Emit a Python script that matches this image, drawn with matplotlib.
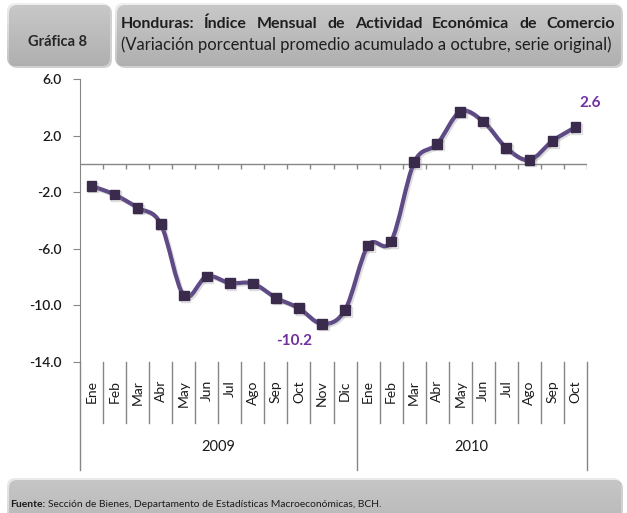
import numpy as np
import matplotlib
matplotlib.use('Agg')
import matplotlib.pyplot as plt
from matplotlib.path import Path
from matplotlib.patches import PathPatch, FancyBboxPatch
from matplotlib.colors import LinearSegmentedColormap
import matplotlib.patheffects as pe

plt.rcParams['font.family'] = ['Lato', 'DejaVu Sans']

# datos
meses = ['Ene', 'Feb', 'Mar', 'Abr', 'May', 'Jun', 'Jul', 'Ago', 'Sep', 'Oct', 'Nov', 'Dic',
         'Ene', 'Feb', 'Mar', 'Abr', 'May', 'Jun', 'Jul', 'Ago', 'Sep', 'Oct']
anios = ['2009', '2010']
meses_por_anio = [12, 10]
valores = [-1.55, -2.17, -3.10, -4.23, -9.30, -7.95, -8.42, -8.45, -9.46, -10.2, -11.30, -10.33,
           -5.77, -5.48, 0.11, 1.41, 3.69, 2.99, 1.13, 0.28, 1.62, 2.6]
etiquetas = {9: '-10.2', 21: '2.6'}
yticks = [6.0, 2.0, -2.0, -6.0, -10.0, -14.0]

titulo1 = 'Honduras: Índice Mensual de Actividad Económica de Comercio'
titulo2 = '(Variación porcentual promedio acumulado a octubre, serie original)'
fuente = 'Sección de Bienes, Departamento de Estadísticas Macroeconómicas, BCH.'

gris = '#868686'
linea = '#5E4A85'
marca = '#3A2B4D'
morado = '#7030A0'
texto = '#1F1F1F'

fig = plt.figure(figsize=(6.27, 5.13), dpi=100)

# fondo con cajas grises (coordenadas en pixeles)
bg = fig.add_axes([0, 0, 1, 1], zorder=-1)
bg.axis('off')


def caja(x0, y0, x1, y1, c1, c2, r=8):
    sombra = FancyBboxPatch((x0 + 2, y0 + 2), x1 - x0, y1 - y0,
                            boxstyle=f'round,pad=0,rounding_size={r}',
                            fc='#9a9a9a', ec='none', alpha=0.45)
    bg.add_patch(sombra)
    p = FancyBboxPatch((x0, y0), x1 - x0, y1 - y0,
                       boxstyle=f'round,pad=0,rounding_size={r}',
                       fc='none', ec='none')
    bg.add_patch(p)
    cm = LinearSegmentedColormap.from_list('g', [c1, c2])
    grad = np.linspace(0, 1, 100).reshape(-1, 1)
    im = bg.imshow(grad, extent=(x0, x1, y1, y0), cmap=cm, aspect='auto')
    im.set_clip_path(p)


caja(7, 3, 110, 66, '#EFEFEF', '#C2C2C2')
caja(115, 3, 621, 66, '#EFEFEF', '#C2C2C2')
caja(7, 478, 621, 530, '#EBEBEB', '#CFCFCF')
bg.set_xlim(0, 627)
bg.set_ylim(513, 0)

bg.text(58, 42, 'Gráfica 8', ha='center', va='center', fontsize=10.5,
        fontweight='bold', color='#262626')

# titulo justificado entre x=121 y x=615
rend = fig.canvas.get_renderer()
palabras = titulo1.split(' ')
objs = [bg.text(0, 24, w, ha='left', va='center', fontsize=11.5,
                fontweight='bold', color=texto) for w in palabras]
anchos = [o.get_window_extent(rend).width for o in objs]
hueco = (615 - 121 - sum(anchos)) / (len(palabras) - 1)
x = 121
for o, w in zip(objs, anchos):
    o.set_x(x)
    x += w + hueco
bg.text(121, 45, titulo2, ha='left', va='center', fontsize=11.9, color=texto)

t1 = bg.text(10, 509, 'Fuente:', ha='left', va='bottom', fontsize=7.4,
             fontweight='bold', color='#1a1a1a')
bg.annotate(fuente, xy=(1, 0), xycoords=t1, xytext=(2, 0), textcoords='offset points',
            ha='left', va='bottom', fontsize=7.4, color='#1a1a1a')

# grafico
ax = fig.add_axes([80 / 627, 1 - 362 / 513, 507 / 627, 283 / 513])
ax.set_xlim(0, len(meses))
ax.set_ylim(-14, 6)
ax.set_yticks(yticks)
ax.set_yticklabels([f'{v:.1f}' for v in yticks])
ax.set_xticks([])
for s in ['top', 'right', 'bottom']:
    ax.spines[s].set_visible(False)
ax.spines['left'].set_color(gris)
ax.tick_params(axis='y', direction='out', length=5, color=gris, labelsize=10,
               labelcolor='#1a1a1a', pad=8)
for lab in ax.get_yticklabels():
    lab.set_fontweight('semibold')
ax.patch.set_alpha(0)

ax.axhline(0, color=gris, lw=1)
ax.vlines(range(1, len(meses) + 1), -0.35, 0, color=gris, lw=1)

trans = ax.get_xaxis_transform()
limites = np.cumsum([0] + meses_por_anio)
for i in range(len(meses) + 1):
    ybot = -0.38 if i in limites else -0.215
    ax.plot([i, i], [0, ybot], transform=trans, clip_on=False, color=gris, lw=1)
for i, m in enumerate(meses):
    ax.text(i + 0.5, -0.064, m, rotation=90, ha='center', va='top',
            transform=trans, fontsize=10, color='#1a1a1a')
for k, a in enumerate(anios):
    ax.text((limites[k] + limites[k + 1]) / 2, -0.30, a, ha='center', va='center',
            transform=trans, fontsize=10.5, color='#1a1a1a')

# linea suavizada (bezier tipo Catmull-Rom a partir de los datos)
xs = np.arange(len(valores)) + 0.5
P = np.column_stack([xs, valores])
verts = [P[0]]
codes = [Path.MOVETO]
n = len(P)
for i in range(n - 1):
    p0 = P[i - 1] if i > 0 else P[i]
    p3 = P[i + 2] if i + 2 < n else P[i + 1]
    c1 = P[i] + (P[i + 1] - p0) / 6
    c2 = P[i + 1] - (p3 - P[i]) / 6
    verts += [c1, c2, P[i + 1]]
    codes += [Path.CURVE4] * 3
sombra = [pe.SimpleLineShadow(offset=(1.2, -1.2), shadow_color='#909090', alpha=0.3), pe.Normal()]
ax.add_patch(PathPatch(Path(verts, codes), fc='none', ec=linea, lw=3,
                       capstyle='round', joinstyle='round', path_effects=sombra))
ax.plot(xs, valores, ls='none', marker='s', ms=7, mfc=marca, mec=marca,
        path_effects=sombra)

offs = {9: (-5, -33), 21: (15, 24)}
for idx, txt in etiquetas.items():
    ax.annotate(txt, (xs[idx], valores[idx]), xytext=offs[idx], textcoords='offset pixels',
                ha='center', va='center', color=morado, fontsize=11, fontweight='bold')

fig.savefig('out.png', dpi=100)
